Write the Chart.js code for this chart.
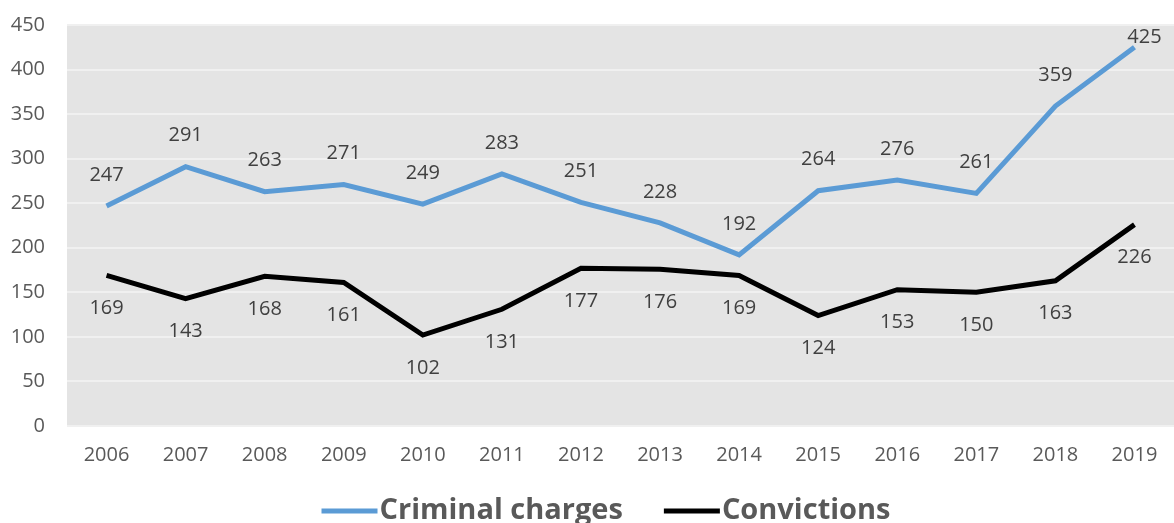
<!DOCTYPE html>
<html>
<head>
<meta charset="utf-8">
<script src="https://cdn.jsdelivr.net/npm/chart.js@4/dist/chart.umd.min.js"></script>
<style>
  html, body { margin: 0; padding: 0; background: #fff; }
  #wrap { width: 1174px; height: 523px; }
</style>
</head>
<body>
<div id="wrap"><canvas id="chart" width="1174" height="523"></canvas></div>
<script>
const years = ['2006', '2007', '2008', '2009', '2010', '2011', '2012',
               '2013', '2014', '2015', '2016', '2017', '2018', '2019'];
const criminalCharges = [247, 291, 263, 271, 249, 283, 251, 228, 192, 264, 276, 261, 359, 425];
const convictions = [169, 143, 168, 161, 102, 131, 177, 176, 169, 124, 153, 150, 163, 226];

const FONT = "'Open Sans', 'DejaVu Sans', sans-serif";

// grey plot background like the original
const plotBackground = {
  id: 'plotBackground',
  beforeDraw(chart) {
    const { ctx, chartArea: a } = chart;
    ctx.save();
    ctx.fillStyle = '#e4e4e4';
    ctx.fillRect(a.left, a.top, a.right - a.left, a.bottom - a.top);
    ctx.restore();
  }
};

// value labels: charges above the line, convictions below
const valueLabels = {
  id: 'valueLabels',
  afterDatasetsDraw(chart) {
    const ctx = chart.ctx;
    ctx.save();
    ctx.font = '20px ' + FONT;
    ctx.fillStyle = '#404040';
    ctx.textAlign = 'center';
    ctx.textBaseline = 'middle';
    chart.data.datasets.forEach((ds, i) => {
      const meta = chart.getDatasetMeta(i);
      meta.data.forEach((pt, j) => {
        let x = pt.x;
        let y = i === 0 ? pt.y - 31 : pt.y + 33;
        if (y < 37) { y = 37; x += 10; }
        ctx.fillText(String(ds.data[j]), x, y);
      });
    });
    ctx.restore();
  }
};

// legend drawn by hand: line sample right against the bold label
const lineLegend = {
  id: 'lineLegend',
  afterDraw(chart) {
    const ctx = chart.ctx;
    const lineW = 56, gap = 2, itemGap = 41, y = 511;
    ctx.save();
    ctx.font = 'bold 29px ' + FONT;
    const items = chart.data.datasets.map(ds => ({
      text: ds.label, color: ds.borderColor, w: ctx.measureText(ds.label).width
    }));
    let total = items.reduce((s, it) => s + lineW + gap + it.w, 0) + itemGap * (items.length - 1);
    let x = 606 - total / 2;
    ctx.textBaseline = 'middle';
    ctx.textAlign = 'left';
    items.forEach(it => {
      ctx.fillStyle = it.color;
      ctx.fillRect(x, y - 2.5, lineW, 5);
      x += lineW + gap;
      ctx.fillStyle = '#595959';
      ctx.fillText(it.text, x, y);
      x += it.w + itemGap;
    });
    ctx.restore();
  }
};

new Chart(document.getElementById('chart').getContext('2d'), {
  type: 'line',
  data: {
    labels: years,
    datasets: [
      {
        label: 'Criminal charges',
        data: criminalCharges,
        borderColor: '#5b9bd5',
        backgroundColor: '#5b9bd5',
        borderWidth: 5,
        pointRadius: 0,
        tension: 0,
        fill: false
      },
      {
        label: 'Convictions',
        data: convictions,
        borderColor: '#000000',
        backgroundColor: '#000000',
        borderWidth: 5,
        pointRadius: 0,
        tension: 0,
        fill: false
      }
    ]
  },
  options: {
    responsive: false,
    animation: false,
    layout: { padding: { top: 0, right: 0, left: 0, bottom: 56 } },
    plugins: {
      tooltip: { enabled: false },
      legend: { display: false }
    },
    scales: {
      x: {
        offset: true,
        grid: { display: false, drawTicks: false },
        border: { display: false },
        ticks: {
          color: '#595959',
          padding: 17,
          maxRotation: 0,
          font: { family: FONT, size: 20 }
        },
        afterFit(scale) {
          scale.height = 41;
          scale.paddingLeft = 0;
          scale.paddingRight = 0;
        }
      },
      y: {
        min: 0,
        max: 450,
        grid: { color: '#f0f0f0', lineWidth: 2, drawTicks: false },
        border: { display: false },
        ticks: {
          stepSize: 50,
          color: '#595959',
          padding: 22,
          font: { family: FONT, size: 20 }
        },
        afterFit(scale) {
          scale.width = 67;
          scale.paddingTop = 25;
          scale.paddingBottom = 0;
        }
      }
    }
  },
  plugins: [plotBackground, valueLabels, lineLegend]
});
</script>
</body>
</html>
